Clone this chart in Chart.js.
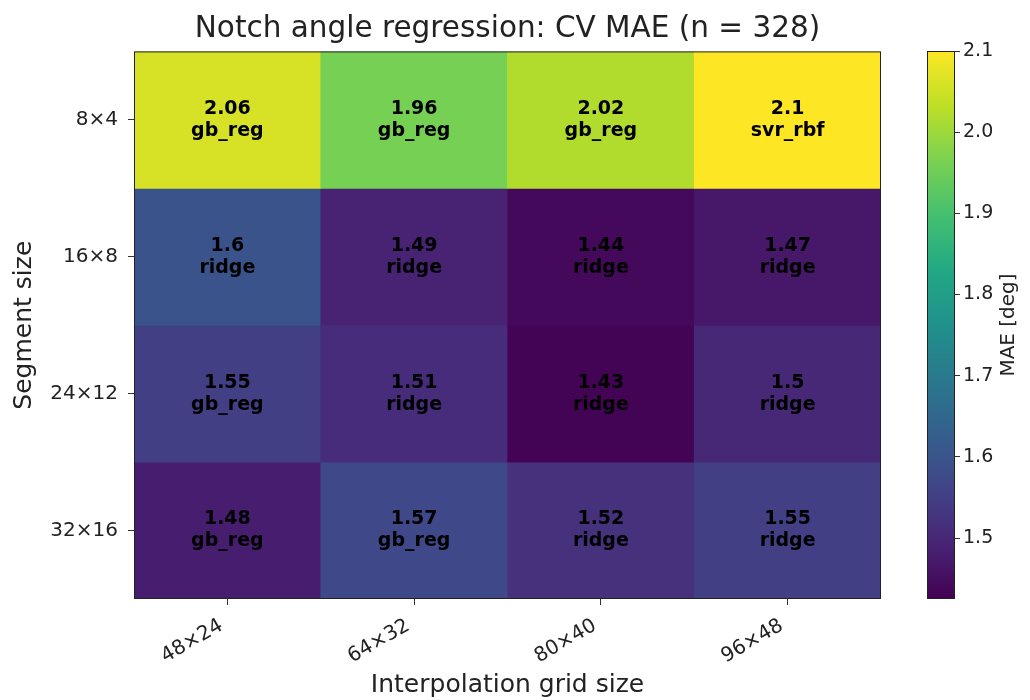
<!DOCTYPE html>
<html>
<head>
<meta charset="utf-8">
<script src="https://cdn.jsdelivr.net/npm/chart.js@4"></script>
<style>
  html, body { margin: 0; padding: 0; background: #fff; }
  #wrap { position: relative; width: 1030px; height: 700px; }
  #heat { position: absolute; left: 0; top: 0; }
  #cbar { position: absolute; left: 900px; top: 0; }
</style>
</head>
<body>
<div id="wrap">
  <canvas id="heat" width="1030" height="700"></canvas>
  <canvas id="cbar" width="130" height="700"></canvas>
</div>
<script>
const rowLabels = ['8×4', '16×8', '24×12', '32×16'];
const colLabels = ['48×24', '64×32', '80×40', '96×48'];

// CV MAE per segment size (row) and interpolation grid (column)
const mae8x4 = [2.06, 1.96, 2.02, 2.1];
const mae16x8 = [1.6, 1.49, 1.44, 1.47];
const mae24x12 = [1.55, 1.51, 1.43, 1.5];
const mae32x16 = [1.48, 1.57, 1.52, 1.55];

// best model per cell
const best8x4 = ['gb_reg', 'gb_reg', 'gb_reg', 'svr_rbf'];
const best16x8 = ['ridge', 'ridge', 'ridge', 'ridge'];
const best24x12 = ['gb_reg', 'ridge', 'ridge', 'ridge'];
const best32x16 = ['gb_reg', 'gb_reg', 'ridge', 'ridge'];

const colorbarTicks = [1.5, 1.6, 1.7, 1.8, 1.9, 2.0, 2.1];
const vmin = 1.425;
const vmax = 2.1;

const maeRows = [mae8x4, mae16x8, mae24x12, mae32x16];
const bestRows = [best8x4, best16x8, best24x12, best32x16];

const FONT = "'DejaVu Sans', sans-serif";
const TEXT = '#222';

//viridis stops, 0 to 1 in steps of 0.1
const viridis = [
  [68, 1, 84], [72, 36, 117], [65, 68, 135], [53, 95, 141], [42, 120, 142],
  [33, 145, 140], [34, 168, 132], [68, 191, 112], [122, 209, 81],
  [189, 223, 38], [253, 231, 37],
];

function viridisAt(t) {
  t = Math.min(1, Math.max(0, t));
  const p = t * 10;
  const i = Math.min(9, Math.floor(p));
  const f = p - i;
  const a = viridis[i], b = viridis[i + 1];
  const c = a.map((v, k) => Math.round(v + (b[k] - v) * f));
  return `rgb(${c[0]}, ${c[1]}, ${c[2]})`;
}

function colorFor(v) {
  return viridisAt((v - vmin) / (vmax - vmin));
}

//one floating-bar dataset per row
const heatDatasets = maeRows.map((row, i) => ({
  label: rowLabels[i],
  data: row.map(() => [i, i + 1]),
  backgroundColor: row.map(colorFor),
  borderWidth: 0,
  grouped: false,
  barPercentage: 1,
  categoryPercentage: 1,
}));

const cellText = {
  id: 'cellText',
  afterDatasetsDraw(chart) {
    const ctx = chart.ctx;
    ctx.save();
    ctx.fillStyle = '#000';
    ctx.font = `bold 19px ${FONT}`;
    ctx.textAlign = 'center';
    ctx.textBaseline = 'middle';
    chart.data.datasets.forEach((ds, i) => {
      chart.getDatasetMeta(i).data.forEach((bar, j) => {
        const cy = (bar.y + bar.base) / 2;
        ctx.fillText(String(maeRows[i][j]), bar.x, cy - 11);
        ctx.fillText(bestRows[i][j], bar.x, cy + 11);
      });
    });
    //frame
    const a = chart.chartArea;
    ctx.strokeStyle = '#222';
    ctx.lineWidth = 1;
    ctx.strokeRect(a.left + 0.5, a.top + 0.5, a.right - a.left - 1, a.bottom - a.top - 1);
    ctx.restore();
  },
};

new Chart(document.getElementById('heat'), {
  type: 'bar',
  data: { labels: colLabels, datasets: heatDatasets },
  options: {
    responsive: false,
    animation: false,
    layout: { padding: { left: 0, right: 149, top: 0, bottom: 0 } },
    plugins: {
      legend: { display: false },
      tooltip: { enabled: false },
      title: {
        display: true,
        fullSize: false,
        text: 'Notch angle regression: CV MAE (n = 328)',
        color: TEXT,
        font: { family: FONT, size: 29.5, weight: 'normal', lineHeight: 1.2 },
        padding: { top: 12, bottom: 4 },
      },
    },
    scales: {
      x: {
        type: 'category',
        offset: true,
        grid: { display: true, offset: false, drawOnChartArea: false, tickLength: 6, color: '#333' },
        border: { display: false },
        ticks: {
          color: TEXT,
          font: { family: FONT, size: 20 },
          minRotation: 30,
          maxRotation: 30,
          padding: 9,
          labelOffset: -6,
        },
        title: {
          display: true,
          text: 'Interpolation grid size',
          color: TEXT,
          font: { family: FONT, size: 25 },
          padding: { top: 2, bottom: 0 },
        },
        afterFit(scale) {
          scale.height = 101;
        },
      },
      y: {
        type: 'linear',
        min: 0,
        max: 4,
        reverse: true,
        grid: { display: true, drawOnChartArea: false, tickLength: 6, color: '#333' },
        border: { display: false },
        afterBuildTicks(scale) {
          scale.ticks = rowLabels.map((_, i) => ({ value: i + 0.5 }));
        },
        ticks: {
          autoSkip: false,
          color: TEXT,
          font: { family: FONT, size: 20 },
          padding: 10,
          callback: (v) => rowLabels[Math.floor(v)],
        },
        title: {
          display: true,
          text: 'Segment size',
          color: TEXT,
          font: { family: FONT, size: 25 },
          padding: { top: 9, bottom: 2 },
        },
        afterFit(scale) {
          scale.width = 134;
        },
      },
    },
  },
  plugins: [cellText],
});

//colorbar
const cbarDecor = {
  id: 'cbarDecor',
  afterDatasetsDraw(chart) {
    const ctx = chart.ctx;
    const a = chart.chartArea;
    ctx.save();
    ctx.strokeStyle = '#222';
    ctx.lineWidth = 1;
    ctx.strokeRect(a.left + 0.5, a.top + 0.5, a.right - a.left - 1, a.bottom - a.top - 1);
    ctx.fillStyle = TEXT;
    ctx.font = `20px ${FONT}`;
    ctx.textAlign = 'center';
    ctx.textBaseline = 'middle';
    ctx.translate(109, (a.top + a.bottom) / 2);
    ctx.rotate(-Math.PI / 2);
    ctx.fillText('MAE [deg]', 0, 0);
    ctx.restore();
  },
};

new Chart(document.getElementById('cbar'), {
  type: 'bar',
  data: {
    labels: ['MAE'],
    datasets: [{
      data: [[vmin, vmax]],
      borderWidth: 0,
      barPercentage: 1,
      categoryPercentage: 1,
      backgroundColor(context) {
        const area = context.chart.chartArea;
        if (!area) return '#888';
        const g = context.chart.ctx.createLinearGradient(0, area.bottom, 0, area.top);
        viridis.forEach((c, k) => g.addColorStop(k / 10, `rgb(${c[0]}, ${c[1]}, ${c[2]})`));
        return g;
      },
    }],
  },
  options: {
    responsive: false,
    animation: false,
    layout: { padding: { left: 27, right: 0, top: 51, bottom: 101 } },
    plugins: { legend: { display: false }, tooltip: { enabled: false } },
    scales: {
      x: { display: false },
      y: {
        type: 'linear',
        position: 'right',
        min: vmin,
        max: vmax,
        grid: { display: true, drawOnChartArea: false, tickLength: 5, color: '#333' },
        border: { display: false },
        afterBuildTicks(scale) {
          scale.ticks = colorbarTicks.map((v) => ({ value: v }));
        },
        ticks: {
          autoSkip: false,
          color: TEXT,
          font: { family: FONT, size: 19 },
          padding: 3,
          callback: (v) => v.toFixed(1),
        },
        afterFit(scale) {
          scale.width = 75;
        },
      },
    },
  },
  plugins: [cbarDecor],
});
</script>
</body>
</html>
